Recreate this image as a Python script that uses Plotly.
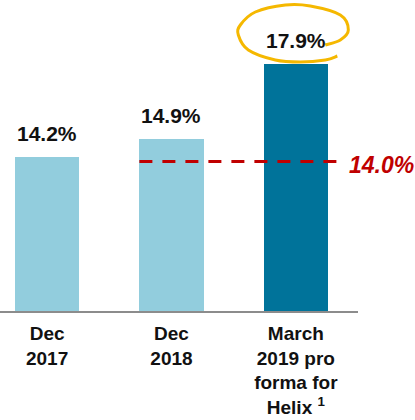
import plotly.graph_objects as go

# ---- data ----
categories = ["Dec<br>2017", "Dec<br>2018", "March<br>2019 pro<br>forma for<br>Helix <sup>1</sup>"]
values = [14.2, 14.9, 17.9]
value_labels = ["14.2%", "14.9%", "17.9%"]
bar_colors = ["#92CDDD", "#92CDDD", "#00739A"]
threshold = 14.0
threshold_label = "14.0%"

# ---- style ----
FONT = "Liberation Sans, Arial, sans-serif"
BAR_W = 0.516
x_pos = list(range(len(categories)))

fig = go.Figure()
fig.add_trace(go.Bar(
    x=x_pos, y=values, width=BAR_W,
    marker=dict(color=bar_colors, line=dict(width=0)),
    hoverinfo="skip", showlegend=False,
))

# value labels above bars
for xi, v, t in zip(x_pos, values, value_labels):
    fig.add_annotation(x=xi, y=v, text=t, showarrow=False, yanchor="bottom",
                       yshift=10, font=dict(family=FONT, size=21, color="#111111", weight="bold"))

# dashed threshold line (from left edge of 2nd bar to just beyond 3rd bar)
fig.add_shape(type="line", xref="x", yref="y",
              x0=1 - BAR_W / 2, x1=2 + BAR_W / 2 + 0.07, y0=threshold, y1=threshold,
              line=dict(color="#C00000", width=3, dash="13px,10px"))
fig.add_annotation(xref="paper", x=0.97, y=threshold, yref="y", text=threshold_label,
                   showarrow=False, xanchor="left", yanchor="middle", yshift=-3,
                   font=dict(family=FONT, size=23, color="#C00000", weight="bold", style="italic"))

# hand-drawn yellow loop around the top value (pixel offsets from bar-3 top)
loop = [(29.5, 19), (44.5, 24), (52.5, 34), (44.5, 49), (14.5, 58), (-10.5, 59), (-40.5, 52),
        (-55.5, 39), (-57.5, 29), (-47.5, 14), (-20.5, 4), (4.5, 2), (29.5, 4), (41.5, 8)]
pts = [loop[0]] + loop + [loop[-1]]
path = f"M {loop[0][0]},{loop[0][1]}"
for i in range(1, len(pts) - 2):
    p0, p1, p2, p3 = pts[i - 1], pts[i], pts[i + 1], pts[i + 2]
    c1 = (p1[0] + (p2[0] - p0[0]) / 6, p1[1] + (p2[1] - p0[1]) / 6)
    c2 = (p2[0] - (p3[0] - p1[0]) / 6, p2[1] - (p3[1] - p1[1]) / 6)
    path += f" C {c1[0]:.1f},{c1[1]:.1f} {c2[0]:.1f},{c2[1]:.1f} {p2[0]:.1f},{p2[1]:.1f}"
fig.add_shape(type="path", path=path, xref="x", yref="y",
              xsizemode="pixel", ysizemode="pixel", xanchor=2, yanchor=values[2],
              line=dict(color="#F5B800", width=3))

fig.update_layout(
    width=415, height=420,
    margin=dict(l=0, r=57, t=0, b=109, autoexpand=False),
    paper_bgcolor="white", plot_bgcolor="white",
    bargap=0,
    xaxis=dict(tickvals=x_pos, ticktext=categories, range=[-0.379, 2.5],
               showline=True, linecolor="#8C8C8C", linewidth=2, ticks="",
               showgrid=False, zeroline=False, fixedrange=True, automargin=False,
               ticklabelstandoff=4,
               tickfont=dict(family=FONT, size=19, color="#111111", weight="bold")),
    yaxis=dict(range=[8.02, 20.46], visible=False, showgrid=False, zeroline=False,
               fixedrange=True, automargin=False),
)

fig.write_html("out.html", config={"displayModeBar": False},
               post_script="document.body.style.margin='0';document.body.style.overflow='hidden';")
